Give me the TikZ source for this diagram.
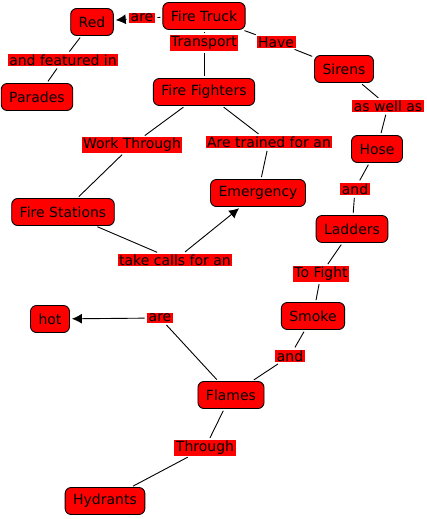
\documentclass[tikz,border=0pt]{standalone}
\usepackage{fontspec}
\setmainfont{DejaVu Sans}
\usetikzlibrary{arrows.meta}
\begin{document}
\begin{tikzpicture}[x=1pt, y=-1pt, line width=0.9pt]

    \tikzset{concept/.style={%
      draw,%
      fill=red,%
      rectangle,%
      rounded corners=6pt,%
      inner xsep=8pt,%
      minimum height=27pt,%
      font=\fontsize{14}{16}\selectfont}%
    };

    \tikzset{linkword/.style={fill=red, inner xsep=1.5pt, inner ysep=1pt,
      font=\fontsize{14}{16}\selectfont}};

    \tikzset{link/.style={shorten <=2pt, shorten >=2pt}};

    \tikzset{linkto/.style={link, -{Latex[length=10pt,width=10pt]}}};

    \useasboundingbox (0,0) rectangle (426,519);

    %%%%%%%%%%%%
    % concepts %
    %%%%%%%%%%%%
    \node [concept] (ftruck) at (204,16) {Fire Truck};
    \node [concept] (red) at (92,22) {Red};
    \node [concept] (parades) at (37,97) {Parades};
    \node [concept] (ffighters) at (204,92) {Fire Fighters};
    \node [concept] (sirens) at (344,69) {Sirens};
    \node [concept] (hose) at (377,149) {Hose};
    \node [concept] (emergency) at (258,193) {Emergency};
    \node [concept] (fstations) at (63,212) {Fire Stations};
    \node [concept] (ladders) at (352,229) {Ladders};
    \node [concept] (smoke) at (313,316) {Smoke};
    \node [concept] (hot) at (50,319) {hot};
    \node [concept] (flames) at (231,395) {Flames};
    \node [concept] (hydrants) at (105,501) {Hydrants};

    %%%%%%%%%%%%%%
    % link words %
    %%%%%%%%%%%%%%
    \node [linkword] (are) at (142,18) {are};
    \node [linkword] (transport) at (204,43) {Transport};
    \node [linkword] (have) at (276,42) {Have};
    \node [linkword] (featured) at (63,60) {and featured in\ };
    \node [linkword] (aswell) at (388,106) {as well as};
    \node [linkword] (workthrough) at (132,145) {Work Through};
    \node [linkword] (trained) at (269,142) {Are trained for an};
    \node [linkword] (andhose) at (355,189) {and};
    \node [linkword] (takecalls) at (175,260) {take calls for an};
    \node [linkword] (tofight) at (321,274) {To Fight};
    \node [linkword] (arehot) at (160,318) {are};
    \node [linkword] (andsmoke) at (290,356) {and};
    \node [linkword] (through) at (205,448) {Through};

    \draw [link] (ftruck) -- (are);
    \draw [linkto] (are) -- (red);
    \draw [link] (ftruck) -- (transport);
    \draw [link] (transport) -- (ffighters);
    \draw [link] (ftruck) -- (have);
    \draw [link] (have) -- (sirens);
    \draw [link] (red) -- (featured);
    \draw [link] (featured) -- (parades);
    \draw [link] (sirens) -- (aswell);
    \draw [link] (aswell) -- (hose);
    \draw [link] (hose) -- (andhose);
    \draw [link] (andhose) -- (ladders);
    \draw [link] (ladders) -- (tofight);
    \draw [link] (tofight) -- (smoke);
    \draw [link] (smoke) -- (andsmoke);
    \draw [link] (andsmoke) -- (flames);
    \draw [link] (flames) -- (arehot);
    \draw [linkto] (arehot) -- (hot);
    \draw [link] (flames) -- (through);
    \draw [link] (through) -- (hydrants);
    \draw [link] (ffighters) -- (workthrough);
    \draw [link] (workthrough) -- (fstations);
    \draw [link] (ffighters) -- (trained);
    \draw [link] (trained) -- (emergency);
    \draw [link] (fstations) -- (takecalls);
    \draw [linkto] (takecalls) -- (emergency);

  \end{tikzpicture}
\end{document}
